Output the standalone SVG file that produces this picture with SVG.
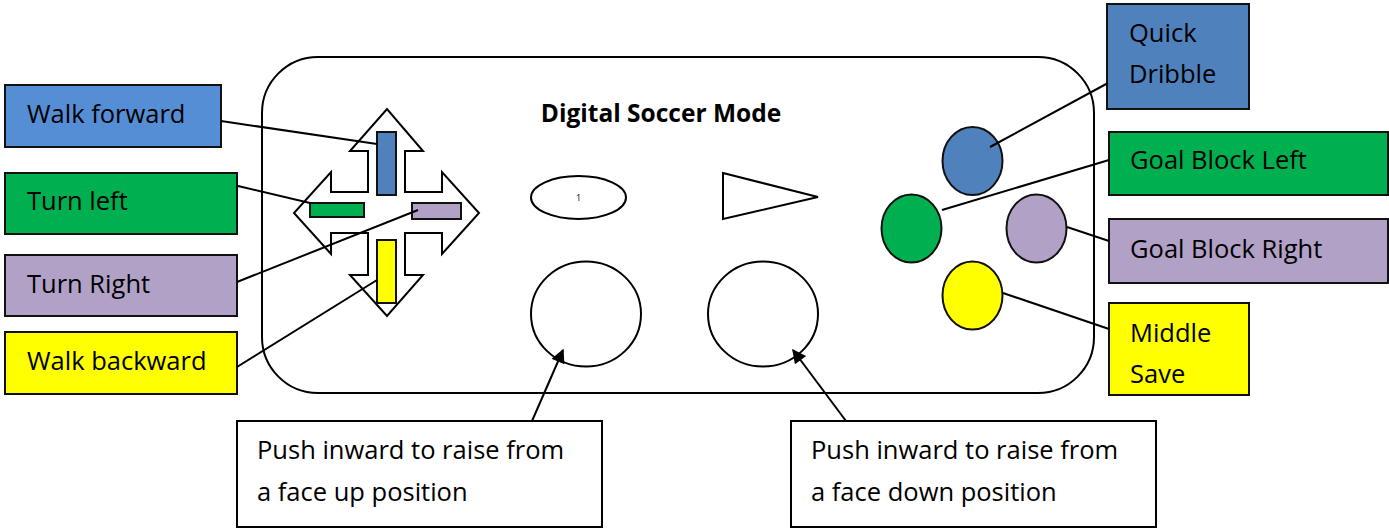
<svg xmlns="http://www.w3.org/2000/svg" width="1389" height="529" viewBox="0 0 1389 529">
<style>
.box{stroke:#111;stroke-width:2}
.lbl{font-family:"Open Sans","Noto Sans",sans-serif;font-size:25.5px;fill:#000}
.shape{fill:#fff;stroke:#000;stroke-width:2}
.con{stroke:#000;stroke-width:2;fill:none}
.blue1{fill:#558ED5}
.blue2{fill:#4F81BD}
.green{fill:#00B050}
.purple{fill:#B2A1C7}
.yellow{fill:#FFFF00}
</style>
<defs>
<marker id="ah2" viewBox="0 0 10 10" refX="9" refY="5" markerWidth="16" markerHeight="14" markerUnits="userSpaceOnUse" orient="auto">
<path d="M0,0 L10,5 L0,10 z" fill="#000"/>
</marker>
</defs>

<g id="controller">
<rect x="262" y="57" width="832" height="336" rx="56" ry="56" fill="#fff" stroke="#000" stroke-width="2"/>
<text x="661" y="122" text-anchor="middle" font-family="'Open Sans','Noto Sans',sans-serif" font-weight="bold" font-size="24.5" fill="#000">Digital Soccer Mode</text>
</g>

<g id="dpad">
<polygon class="shape" points="368,151 368,192 331,192 331,172 294,213 331,254 331,233 368,233 368,275 350,275 387,316 423,275 405,275 405,233 442,233 442,254 479,213 442,172 442,192 405,192 405,151 423,151 387,109 350,151"/>
<rect class="box blue2" x="377" y="132" width="19" height="63"/>
<rect class="box green" x="310" y="203" width="54" height="14"/>
<rect class="box purple" x="412" y="203" width="49" height="16"/>
<rect class="box yellow" x="377" y="240" width="19" height="63"/>
</g>

<g id="select-button">
<ellipse class="shape" cx="578.5" cy="197.5" rx="47.5" ry="21.5"/>
<text x="578.5" y="201" text-anchor="middle" font-family="'Open Sans','Noto Sans',sans-serif" font-size="9" fill="#000">1</text>
</g>

<g id="start-button">
<polygon class="shape" points="723,173 818,197 723,219"/>
</g>

<g id="left-stick">
<ellipse class="shape" cx="586" cy="314" rx="55" ry="52.5"/>
</g>
<g id="right-stick">
<ellipse class="shape" cx="763" cy="314" rx="55" ry="52.5"/>
</g>

<g id="btn-top"><ellipse class="box blue2" cx="972.5" cy="161" rx="30" ry="34"/></g>
<g id="btn-left"><ellipse class="box green" cx="911.5" cy="228.5" rx="30" ry="34"/></g>
<g id="btn-right"><ellipse class="box purple" cx="1036.5" cy="228.5" rx="30" ry="34"/></g>
<g id="btn-bottom"><ellipse class="box yellow" cx="972.5" cy="295.5" rx="30" ry="34"/></g>

<g id="walk-forward">
<rect class="box blue1" x="5" y="85" width="216" height="62"/>
<text class="lbl" x="27" y="123">Walk forward</text>
</g>
<g id="turn-left">
<rect class="box green" x="5" y="173" width="232" height="61"/>
<text class="lbl" x="27" y="210">Turn left</text>
</g>
<g id="turn-right">
<rect class="box purple" x="5" y="255" width="232" height="61"/>
<text class="lbl" x="27" y="293">Turn Right</text>
</g>
<g id="walk-backward">
<rect class="box yellow" x="5" y="332" width="232" height="62"/>
<text class="lbl" x="27" y="370">Walk backward</text>
</g>

<g id="quick-dribble">
<rect class="box blue2" x="1107" y="4" width="142" height="105"/>
<text class="lbl" x="1129" y="42">Quick</text>
<text class="lbl" x="1129" y="83">Dribble</text>
</g>
<g id="goal-block-left">
<rect class="box green" x="1109" y="132" width="279" height="63"/>
<text class="lbl" x="1130" y="169">Goal Block Left</text>
</g>
<g id="goal-block-right">
<rect class="box purple" x="1109" y="219" width="279" height="64"/>
<text class="lbl" x="1130" y="258">Goal Block Right</text>
</g>
<g id="middle-save">
<rect class="box yellow" x="1109" y="303" width="140" height="92"/>
<text class="lbl" x="1130" y="342">Middle</text>
<text class="lbl" x="1130" y="383">Save</text>
</g>

<g id="face-up-note">
<rect x="237" y="421" width="365" height="106" fill="#fff" stroke="#000" stroke-width="2"/>
<text class="lbl" x="257" y="459">Push inward to raise from</text>
<text class="lbl" x="257" y="501">a face up position</text>
</g>
<g id="face-down-note">
<rect x="791" y="421" width="365" height="106" fill="#fff" stroke="#000" stroke-width="2"/>
<text class="lbl" x="811" y="459">Push inward to raise from</text>
<text class="lbl" x="811" y="501">a face down position</text>
</g>

<g id="connectors">
<line class="con" x1="221" y1="121" x2="377" y2="144"/>
<line class="con" x1="238" y1="186" x2="310" y2="203"/>
<line class="con" x1="237" y1="282" x2="418" y2="210"/>
<line class="con" x1="237" y1="367" x2="377" y2="280"/>
<line class="con" x1="990" y1="147" x2="1108" y2="83"/>
<line class="con" x1="942" y1="210" x2="1109" y2="160"/>
<line class="con" x1="1067" y1="227" x2="1109" y2="241"/>
<line class="con" x1="1003" y1="293" x2="1109" y2="329"/>
<line class="con" x1="532" y1="421" x2="563" y2="350" marker-end="url(#ah2)"/>
<line class="con" x1="846" y1="421" x2="793" y2="350" marker-end="url(#ah2)"/>
</g>
</svg>
